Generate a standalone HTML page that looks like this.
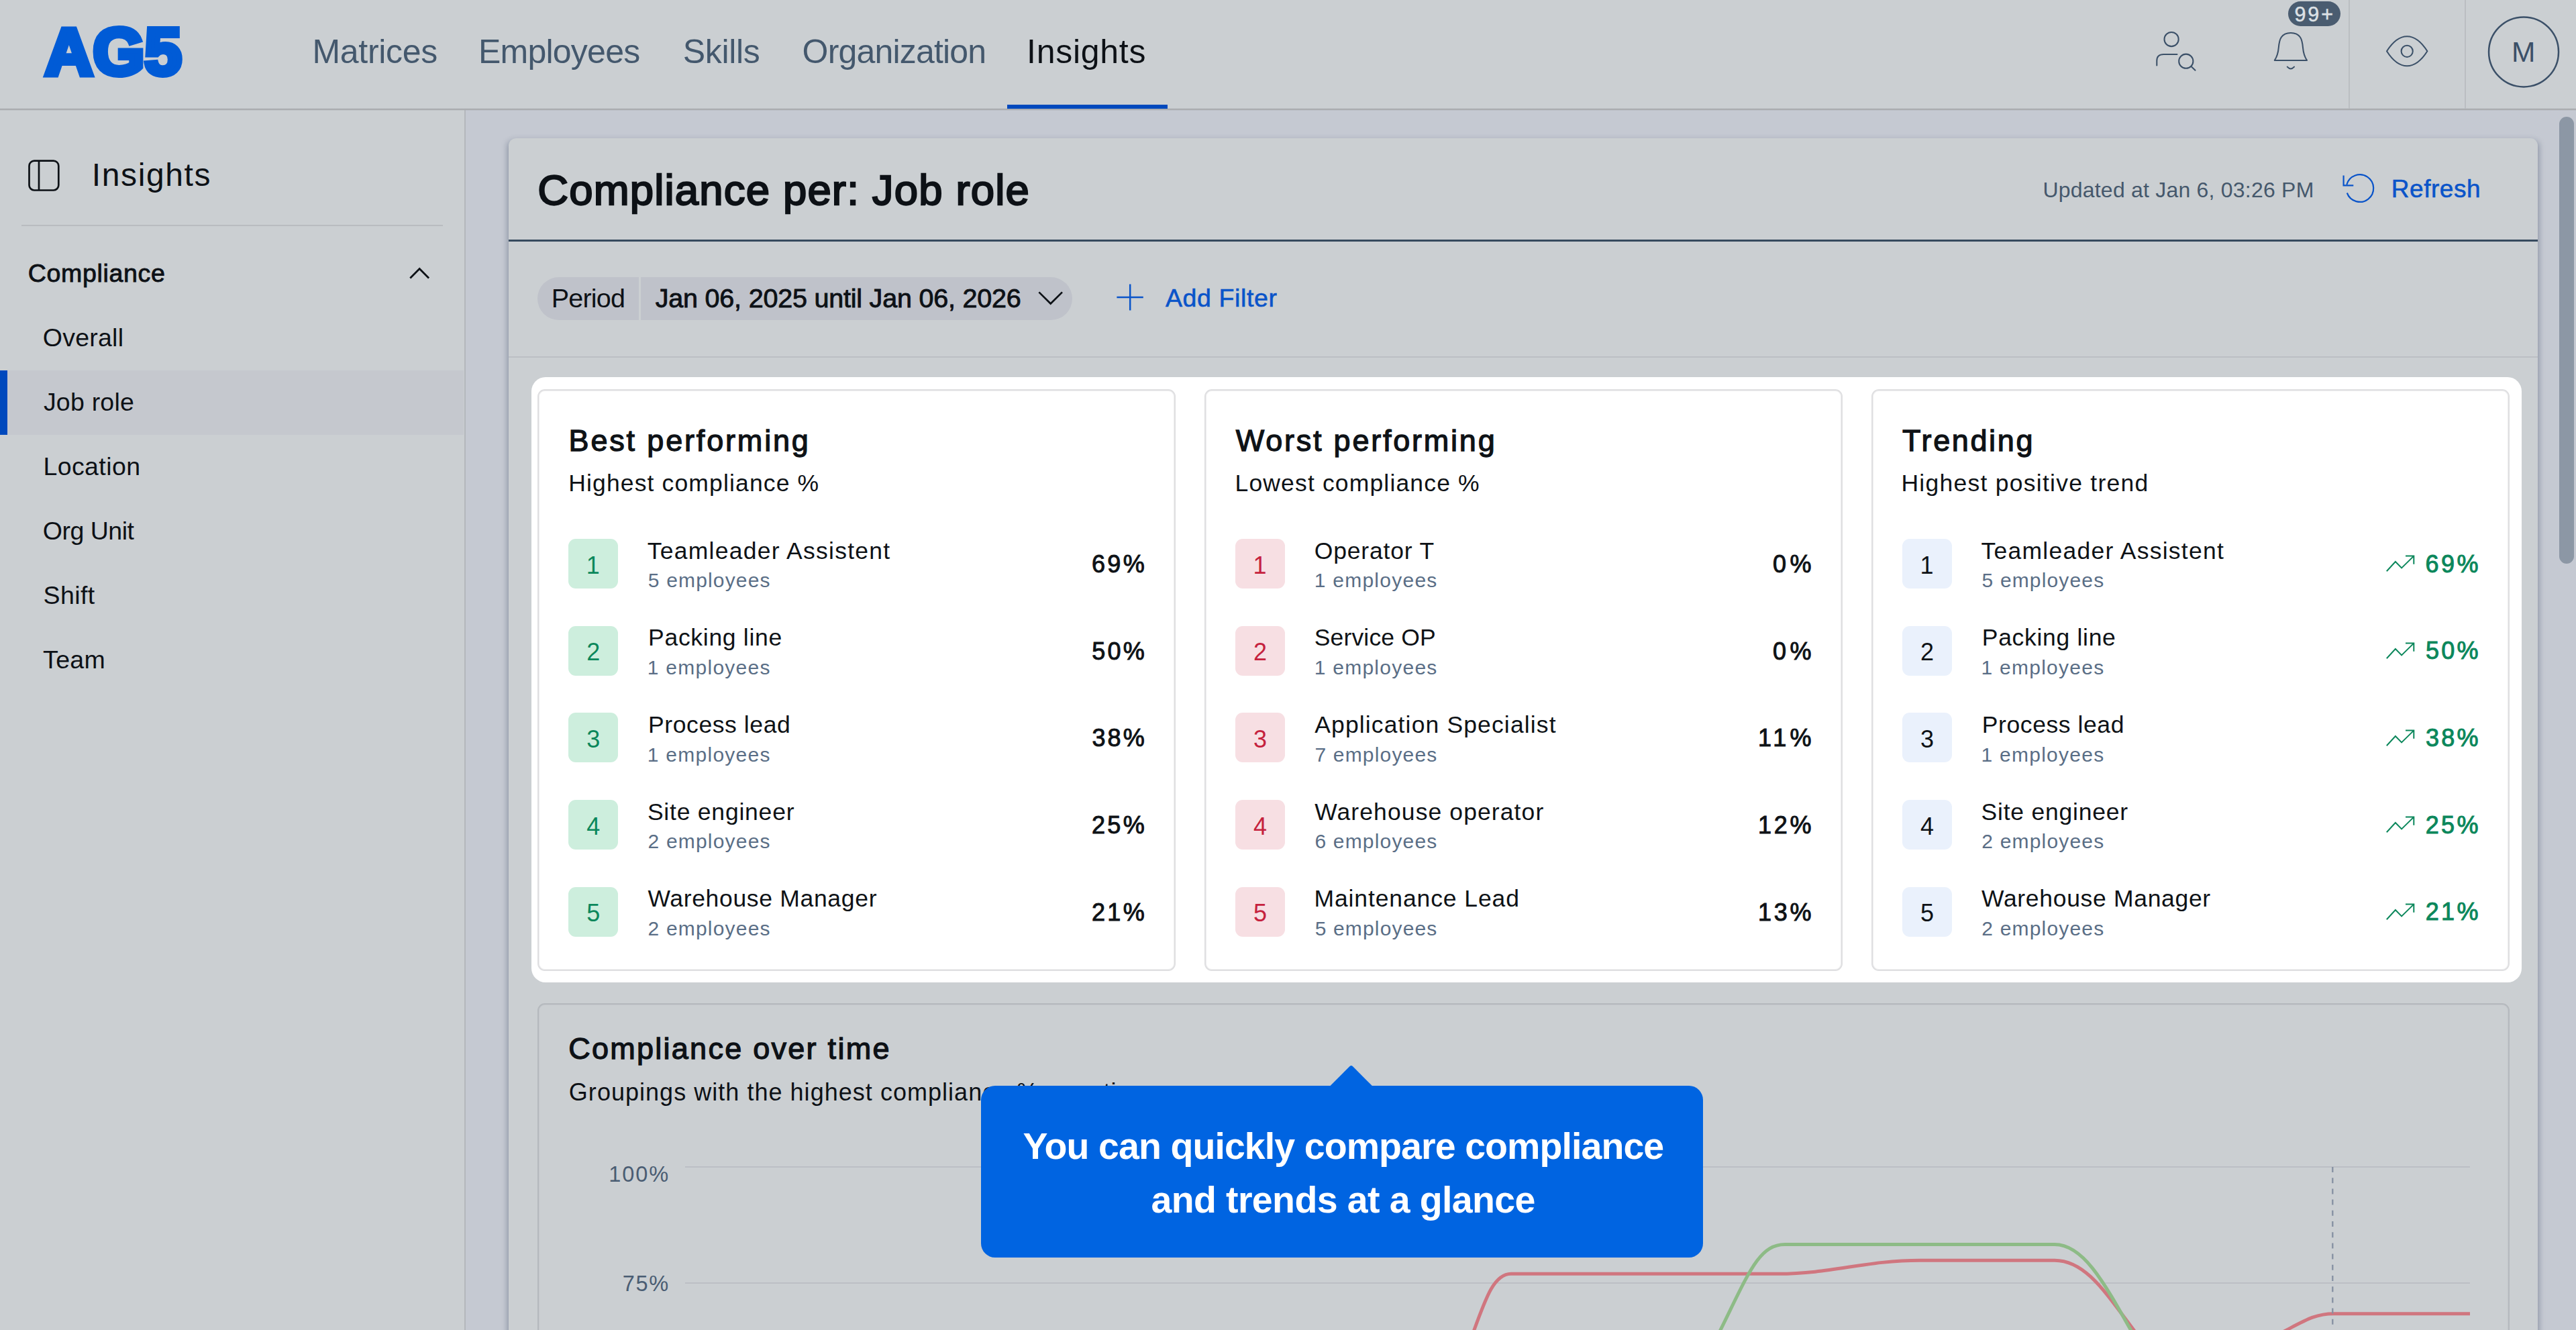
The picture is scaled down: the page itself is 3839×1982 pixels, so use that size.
<!DOCTYPE html>
<html lang="en">
<head>
<meta charset="utf-8">
<title>AG5 – Insights – Compliance per Job role</title>
<style>
*{box-sizing:border-box;margin:0;padding:0}
html,body{width:3839px;height:1982px;overflow:hidden}
body{position:relative;background:#c5c9d2;font-family:"Liberation Sans",sans-serif;}
.abs{position:absolute}
.t{position:absolute;white-space:pre;line-height:1;font-weight:400}
#header{position:absolute;left:0;top:0;width:3839px;height:162px;background:#cbcfd2}
#hline{position:absolute;left:0;top:161px;width:3839px;height:4px;background:linear-gradient(to bottom,rgba(170,172,176,.3) 0 1px,#abadb0 1px 3px,rgba(170,172,176,.25) 3px 4px)}
#navact{position:absolute;left:1501px;top:156px;width:239px;height:6px;background:#0049bd}
.vdiv{position:absolute;top:0;width:2px;height:162px;background:#bbbec2}
#sidebar{position:absolute;left:0;top:164px;width:692px;height:1818px;background:#cbcfd2}
#sideline{position:absolute;left:692px;top:164px;width:2px;height:1818px;background:#b4b7bc}
#sidesep{position:absolute;left:32px;top:335px;width:628px;height:2px;background:#b9bcc0}
#siderow{position:absolute;left:0;top:552px;width:691px;height:96px;background:#c5c8ce}
#sidebar-act{position:absolute;left:0;top:552px;width:11px;height:96px;background:#0049bd}
#main{position:absolute;left:758px;top:206px;width:3024px;height:1800px;background:#cbcfd2;border-radius:11px 11px 0 0;box-shadow:0 1px 8px rgba(70,80,110,.16)}
#mainsh{position:absolute;left:760px;top:216px;width:3020px;height:1800px;box-shadow:0 0 9px 3px rgba(72,88,110,.40)}
#titleline{position:absolute;left:758px;top:357px;width:3024px;height:2.5px;background:#364a5e}
#filterline{position:absolute;left:758px;top:531px;width:3024px;height:2px;background:#bcbfc4}
#pill{position:absolute;left:800.8px;top:412.5px;width:796.8px;height:64px;border-radius:32px;background:#bfc2ca}
#pilldiv{position:absolute;left:952px;top:412.5px;width:3px;height:64px;background:#cbcfd2}
#hl{position:absolute;left:792px;top:562px;width:2966px;height:901.5px;border-radius:21px;background:#fff}
.card{position:absolute;top:579.5px;width:950.5px;height:867.7px;border:2px solid #dfdfe1;box-shadow:inset 0 0 0 1px #eeeeef;border-radius:11px;background:#fff}
.badge{position:absolute;width:74.4px;height:74px;border-radius:11px}
.badge.g{background:#cdeedd}.badge.r{background:#f7dfe3}.badge.b{background:#eaf1fc}
.trend{position:absolute;overflow:visible}
#chart{position:absolute;left:801.4px;top:1494.5px;width:2938.2px;height:520px;border:2px solid #b5b9be;box-shadow:inset 0 0 0 1px #c4c7cb;border-radius:11px}
.grid{position:absolute;left:1020.5px;width:2660.5px;height:2px;background:#bcbfc5}
#sb{position:absolute;left:3814px;top:174px;width:22px;height:666px;border-radius:11px;background:#8c97a5}
#tip{position:absolute;left:1461.6px;top:1617.6px;width:1076.4px;height:256.3px;border-radius:21px;background:#0064e1}
svg.ic{position:absolute;overflow:visible}
</style>
</head>
<body>
<div id="header"></div>
<div id="sidebar"></div>
<div id="sideline"></div>
<div id="hline"></div>
<div id="navact"></div>
<div class="vdiv" style="left:3500px"></div>
<div class="vdiv" style="left:3673px"></div>
<div id="sidesep"></div>
<div id="siderow"></div>
<div id="sidebar-act"></div>
<div id="mainsh"></div>
<div id="main"></div>
<div id="titleline"></div>
<div id="filterline"></div>
<div id="pill"></div><div id="pilldiv"></div>
<div id="hl"></div>
<div id="chart"></div>
<div class="grid" style="top:1738px"></div>
<div class="grid" style="top:1911px"></div>
<div id="sb"></div>
<div class="card" style="left:801.4px"></div>
<div class="badge g" style="left:847.0px;top:802.9px"></div>
<div class="badge g" style="left:847.0px;top:932.6px"></div>
<div class="badge g" style="left:847.0px;top:1062.3px"></div>
<div class="badge g" style="left:847.0px;top:1192.0px"></div>
<div class="badge g" style="left:847.0px;top:1321.7px"></div>
<div class="card" style="left:1795.25px"></div>
<div class="badge r" style="left:1840.85px;top:802.9px"></div>
<div class="badge r" style="left:1840.85px;top:932.6px"></div>
<div class="badge r" style="left:1840.85px;top:1062.3px"></div>
<div class="badge r" style="left:1840.85px;top:1192.0px"></div>
<div class="badge r" style="left:1840.85px;top:1321.7px"></div>
<div class="card" style="left:2789.1px"></div>
<div class="badge b" style="left:2834.7px;top:802.9px"></div>
<svg class="trend" style="left:3556.1px;top:827.2px" width="44" height="27" viewBox="0 0 44 27"><path d="M0.8 24.2 L13.9 10 L23.1 19.4 L40.7 2.1 M29 1.6 H41.3 V13.8" fill="none" stroke="#0b875b" stroke-width="2"/></svg>
<div class="badge b" style="left:2834.7px;top:932.6px"></div>
<svg class="trend" style="left:3556.1px;top:956.9px" width="44" height="27" viewBox="0 0 44 27"><path d="M0.8 24.2 L13.9 10 L23.1 19.4 L40.7 2.1 M29 1.6 H41.3 V13.8" fill="none" stroke="#0b875b" stroke-width="2"/></svg>
<div class="badge b" style="left:2834.7px;top:1062.3px"></div>
<svg class="trend" style="left:3556.1px;top:1086.6px" width="44" height="27" viewBox="0 0 44 27"><path d="M0.8 24.2 L13.9 10 L23.1 19.4 L40.7 2.1 M29 1.6 H41.3 V13.8" fill="none" stroke="#0b875b" stroke-width="2"/></svg>
<div class="badge b" style="left:2834.7px;top:1192.0px"></div>
<svg class="trend" style="left:3556.1px;top:1216.3px" width="44" height="27" viewBox="0 0 44 27"><path d="M0.8 24.2 L13.9 10 L23.1 19.4 L40.7 2.1 M29 1.6 H41.3 V13.8" fill="none" stroke="#0b875b" stroke-width="2"/></svg>
<div class="badge b" style="left:2834.7px;top:1321.7px"></div>
<svg class="trend" style="left:3556.1px;top:1346.0px" width="44" height="27" viewBox="0 0 44 27"><path d="M0.8 24.2 L13.9 10 L23.1 19.4 L40.7 2.1 M29 1.6 H41.3 V13.8" fill="none" stroke="#0b875b" stroke-width="2"/></svg>
<!-- logo as real text -->
<span class="t" id="logo" style="left:67.1px;top:26.5px;font-size:99px;font-weight:700;color:#005bd6;letter-spacing:0;-webkit-text-stroke:8px #005bd6;">AG5</span>
<!-- sidebar toggle icon -->
<svg class="ic" style="left:40px;top:236px" width="52" height="52" viewBox="0 0 52 52"><rect x="3.5" y="3.7" width="43.8" height="43.8" rx="7.5" fill="none" stroke="#0d1116" stroke-width="2.7"/><path d="M18 3.7V47.5" stroke="#0d1116" stroke-width="2.7"/></svg>
<!-- chevron up in sidebar -->
<svg class="ic" style="left:606px;top:394px" width="40" height="28" viewBox="0 0 40 28"><path d="M5.3 20.5 L19.2 6.6 L33.1 20.5" fill="none" stroke="#0d1116" stroke-width="2.8"/></svg>
<!-- person search -->
<svg class="ic" style="left:3205px;top:40px" width="76" height="72" viewBox="0 0 76 72"><g fill="none" stroke="#3b5068" stroke-width="2.05" stroke-linecap="round"><circle cx="31.1" cy="18.5" r="10.6"/><path d="M9.3 57.5 V50.5 Q9.3 41 19.5 41 H39.5"/><circle cx="52.8" cy="51.2" r="10.6"/><path d="M60.5 59 L66.5 64.7"/></g></svg>
<!-- bell -->
<svg class="ic" style="left:3380px;top:40px" width="70" height="72" viewBox="0 0 70 72"><g fill="none" stroke="#3b5068" stroke-width="2.05" stroke-linecap="round" stroke-linejoin="round"><path d="M9.8 49.9 H58 C54 44 52.6 38 52 31 C51.4 24 51 20 48 15.5 C45 11 40 9 33.9 9 C27.8 9 22.8 11 19.8 15.5 C16.8 20 16.4 24 15.8 31 C15.2 38 13.8 44 9.8 49.9 Z"/><path d="M28.8 59.6 Q33.9 65.2 39 59.6"/></g></svg>
<!-- badge -->
<div class="abs" style="left:3410px;top:2px;width:78px;height:37px;border-radius:18.5px;background:#4a5c70"></div>
<!-- eye -->
<svg class="ic" style="left:3550px;top:46px" width="76" height="60" viewBox="0 0 76 60"><g fill="none" stroke="#3b5068" stroke-width="2.05" stroke-linejoin="round"><path d="M7 30.3 C17 14.5 27 8.2 37.2 8.2 C47.4 8.2 57.4 14.5 67.4 30.3 C57.4 46 47.4 52.3 37.2 52.3 C27 52.3 17 46 7 30.3 Z"/><circle cx="37.2" cy="30.3" r="8.6"/></g></svg>
<!-- avatar -->
<svg class="ic" style="left:3700px;top:20px" width="120" height="116" viewBox="0 0 120 116"><circle cx="61.05" cy="57.4" r="52" fill="none" stroke="#3b5068" stroke-width="2.5"/></svg>
<!-- refresh -->
<svg class="ic" style="left:3486px;top:252px" width="60" height="58" viewBox="0 0 60 58"><g fill="none" stroke="#0a54c9" stroke-width="2.2"><path d="M11.3 23.2 A20.3 20.3 0 1 1 11.8 35.5"/><path d="M6.6 9.4 V24.4 H21.3"/></g></svg>
<!-- chevron down in pill -->
<svg class="ic" style="left:1540.8px;top:427.3px" width="50" height="34" viewBox="0 0 50 34"><path d="M7.4 8.4 L24.7 25.5 L42 8.4" fill="none" stroke="#0d1116" stroke-width="2.7"/></svg>
<!-- plus -->
<svg class="ic" style="left:1660px;top:418.4px" width="50" height="50" viewBox="0 0 50 50"><path d="M24.2 5.4 V44.6 M4.4 25 H43.8" fill="none" stroke="#0a54c9" stroke-width="2.5"/></svg>

<span class="t " style="left:465.48px;top:51.67px;font-size:50px;color:#44586d;letter-spacing:-0.314px;">Matrices</span>
<span class="t " style="left:712.88px;top:51.67px;font-size:50px;color:#44586d;letter-spacing:-0.750px;">Employees</span>
<span class="t " style="left:1017.75px;top:51.67px;font-size:50px;color:#44586d;letter-spacing:-0.325px;">Skills</span>
<span class="t " style="left:1195.62px;top:51.67px;font-size:50px;color:#44586d;letter-spacing:-0.818px;">Organization</span>
<span class="t " style="left:1530.08px;top:51.67px;font-size:50px;color:#0d1116;letter-spacing:0.729px;">Insights</span>
<span class="t " style="left:3419.43px;top:6.48px;font-size:30.5px;color:#dde1e5;letter-spacing:2.962px;-webkit-text-stroke:0.5px #dde1e5;">99+</span>
<span class="t " style="left:3743.10px;top:57.22px;font-size:42.5px;color:#3b5068;">M</span>
<span class="t " style="left:136.82px;top:236.97px;font-size:48px;color:#0d1116;letter-spacing:1.621px;">Insights</span>
<span class="t " style="left:41.83px;top:388.76px;font-size:37.5px;color:#0d1116;letter-spacing:0.667px;-webkit-text-stroke:0.9px #0d1116;">Compliance</span>
<span class="t " style="left:63.75px;top:485.06px;font-size:37.5px;color:#0d1116;letter-spacing:0.246px;">Overall</span>
<span class="t " style="left:64.88px;top:581.06px;font-size:37.5px;color:#0d1116;letter-spacing:0.225px;">Job role</span>
<span class="t " style="left:64.38px;top:677.06px;font-size:37.5px;color:#0d1116;letter-spacing:0.411px;">Location</span>
<span class="t " style="left:63.75px;top:773.06px;font-size:37.5px;color:#0d1116;letter-spacing:-0.489px;">Org Unit</span>
<span class="t " style="left:64.55px;top:869.06px;font-size:37.5px;color:#0d1116;letter-spacing:0.400px;">Shift</span>
<span class="t " style="left:64.12px;top:965.06px;font-size:37.5px;color:#0d1116;letter-spacing:0.308px;">Team</span>
<span class="t " style="left:801.25px;top:252.25px;font-size:63.5px;color:#0d1116;letter-spacing:1.158px;-webkit-text-stroke:2.3px #0d1116;">Compliance per: Job role</span>
<span class="t " style="left:3044.40px;top:266.91px;font-size:32px;color:#45586c;letter-spacing:0.217px;">Updated at Jan 6, 03:26 PM</span>
<span class="t " style="left:3563.80px;top:263.28px;font-size:37px;color:#0a54c9;letter-spacing:0.542px;-webkit-text-stroke:0.6px #0a54c9;">Refresh</span>
<span class="t " style="left:821.75px;top:424.86px;font-size:39.5px;color:#0d1116;letter-spacing:-0.815px;">Period</span>
<span class="t " style="left:976.77px;top:424.86px;font-size:39.5px;color:#0d1116;letter-spacing:-0.209px;-webkit-text-stroke:0.9px #0d1116;">Jan 06, 2025 until Jan 06, 2026</span>
<span class="t " style="left:1736.88px;top:426.36px;font-size:37.5px;color:#0a54c9;letter-spacing:0.628px;-webkit-text-stroke:0.6px #0a54c9;">Add Filter</span>
<span class="t " style="left:847.58px;top:633.51px;font-size:45px;color:#0e1216;letter-spacing:2.834px;-webkit-text-stroke:1.3px #0e1216;">Best performing</span>
<span class="t " style="left:847.23px;top:702.55px;font-size:35.5px;color:#0e1216;letter-spacing:1.141px;">Highest compliance %</span>
<span class="t " style="left:873.70px;top:824.53px;font-size:36px;color:#0b875b;">1</span>
<span class="t " style="left:964.75px;top:803.55px;font-size:35.5px;color:#0e1216;letter-spacing:1.263px;">Teamleader Assistent</span>
<span class="t " style="left:965.85px;top:850.21px;font-size:30px;color:#5a6e86;letter-spacing:1.155px;">5 employees</span>
<span class="t " style="left:1626.93px;top:822.93px;font-size:36px;color:#0e1216;letter-spacing:3.362px;-webkit-text-stroke:1.0px #0e1216;">69%</span>
<span class="t " style="left:874.20px;top:954.23px;font-size:36px;color:#0b875b;">2</span>
<span class="t " style="left:966.12px;top:933.25px;font-size:35.5px;color:#0e1216;letter-spacing:0.693px;">Packing line</span>
<span class="t " style="left:964.85px;top:979.90px;font-size:30px;color:#5a6e86;letter-spacing:1.255px;">1 employees</span>
<span class="t " style="left:1627.30px;top:952.63px;font-size:36px;color:#0e1216;letter-spacing:3.175px;-webkit-text-stroke:1.0px #0e1216;">50%</span>
<span class="t " style="left:874.26px;top:1083.93px;font-size:36px;color:#0b875b;">3</span>
<span class="t " style="left:966.12px;top:1062.95px;font-size:35.5px;color:#0e1216;letter-spacing:0.580px;">Process lead</span>
<span class="t " style="left:964.85px;top:1109.61px;font-size:30px;color:#5a6e86;letter-spacing:1.255px;">1 employees</span>
<span class="t " style="left:1627.43px;top:1082.33px;font-size:36px;color:#0e1216;letter-spacing:3.112px;-webkit-text-stroke:1.0px #0e1216;">38%</span>
<span class="t " style="left:874.26px;top:1213.63px;font-size:36px;color:#0b875b;">4</span>
<span class="t " style="left:964.88px;top:1192.65px;font-size:35.5px;color:#0e1216;letter-spacing:0.783px;">Site engineer</span>
<span class="t " style="left:965.60px;top:1239.31px;font-size:30px;color:#5a6e86;letter-spacing:1.180px;">2 employees</span>
<span class="t " style="left:1627.05px;top:1212.03px;font-size:36px;color:#0e1216;letter-spacing:3.300px;-webkit-text-stroke:1.0px #0e1216;">25%</span>
<span class="t " style="left:874.20px;top:1343.33px;font-size:36px;color:#0b875b;">5</span>
<span class="t " style="left:965.38px;top:1322.35px;font-size:35.5px;color:#0e1216;letter-spacing:0.681px;">Warehouse Manager</span>
<span class="t " style="left:965.60px;top:1369.01px;font-size:30px;color:#5a6e86;letter-spacing:1.180px;">2 employees</span>
<span class="t " style="left:1627.05px;top:1341.73px;font-size:36px;color:#0e1216;letter-spacing:3.300px;-webkit-text-stroke:1.0px #0e1216;">21%</span>
<span class="t " style="left:1841.75px;top:633.51px;font-size:45px;color:#0e1216;letter-spacing:2.778px;-webkit-text-stroke:1.3px #0e1216;">Worst performing</span>
<span class="t " style="left:1840.53px;top:702.55px;font-size:35.5px;color:#0e1216;letter-spacing:1.153px;">Lowest compliance %</span>
<span class="t " style="left:1867.55px;top:824.53px;font-size:36px;color:#c5223e;">1</span>
<span class="t " style="left:1958.72px;top:803.55px;font-size:35.5px;color:#0e1216;letter-spacing:0.819px;">Operator T</span>
<span class="t " style="left:1958.70px;top:850.21px;font-size:30px;color:#5a6e86;letter-spacing:1.255px;">1 employees</span>
<span class="t " style="left:2641.88px;top:822.93px;font-size:36px;color:#0e1216;letter-spacing:5.625px;-webkit-text-stroke:1.0px #0e1216;">0%</span>
<span class="t " style="left:1868.05px;top:954.23px;font-size:36px;color:#c5223e;">2</span>
<span class="t " style="left:1958.72px;top:933.25px;font-size:35.5px;color:#0e1216;letter-spacing:0.164px;">Service OP</span>
<span class="t " style="left:1958.70px;top:979.90px;font-size:30px;color:#5a6e86;letter-spacing:1.255px;">1 employees</span>
<span class="t " style="left:2641.88px;top:952.63px;font-size:36px;color:#0e1216;letter-spacing:5.625px;-webkit-text-stroke:1.0px #0e1216;">0%</span>
<span class="t " style="left:1868.11px;top:1083.93px;font-size:36px;color:#c5223e;">3</span>
<span class="t " style="left:1959.22px;top:1062.95px;font-size:35.5px;color:#0e1216;letter-spacing:1.137px;">Application Specialist</span>
<span class="t " style="left:1959.45px;top:1109.61px;font-size:30px;color:#5a6e86;letter-spacing:1.180px;">7 employees</span>
<span class="t " style="left:2619.90px;top:1082.33px;font-size:36px;color:#0e1216;letter-spacing:5.112px;-webkit-text-stroke:1.0px #0e1216;">11%</span>
<span class="t " style="left:1868.11px;top:1213.63px;font-size:36px;color:#c5223e;">4</span>
<span class="t " style="left:1959.22px;top:1192.65px;font-size:35.5px;color:#0e1216;letter-spacing:1.099px;">Warehouse operator</span>
<span class="t " style="left:1959.45px;top:1239.31px;font-size:30px;color:#5a6e86;letter-spacing:1.180px;">6 employees</span>
<span class="t " style="left:2619.90px;top:1212.03px;font-size:36px;color:#0e1216;letter-spacing:3.800px;-webkit-text-stroke:1.0px #0e1216;">12%</span>
<span class="t " style="left:1868.05px;top:1343.33px;font-size:36px;color:#c5223e;">5</span>
<span class="t " style="left:1958.47px;top:1322.35px;font-size:35.5px;color:#0e1216;letter-spacing:0.887px;">Maintenance Lead</span>
<span class="t " style="left:1959.70px;top:1369.01px;font-size:30px;color:#5a6e86;letter-spacing:1.155px;">5 employees</span>
<span class="t " style="left:2619.90px;top:1341.73px;font-size:36px;color:#0e1216;letter-spacing:3.800px;-webkit-text-stroke:1.0px #0e1216;">13%</span>
<span class="t " style="left:2835.10px;top:633.51px;font-size:45px;color:#0e1216;letter-spacing:2.629px;-webkit-text-stroke:1.3px #0e1216;">Trending</span>
<span class="t " style="left:2833.43px;top:702.55px;font-size:35.5px;color:#0e1216;letter-spacing:1.264px;">Highest positive trend</span>
<span class="t " style="left:2861.40px;top:824.53px;font-size:36px;color:#0e1216;">1</span>
<span class="t " style="left:2952.45px;top:803.55px;font-size:35.5px;color:#0e1216;letter-spacing:1.263px;">Teamleader Assistent</span>
<span class="t " style="left:2953.55px;top:850.21px;font-size:30px;color:#5a6e86;letter-spacing:1.155px;">5 employees</span>
<span class="t " style="left:3614.62px;top:822.53px;font-size:36px;color:#0b875b;letter-spacing:3.362px;-webkit-text-stroke:1.0px #0b875b;">69%</span>
<span class="t " style="left:2861.90px;top:954.23px;font-size:36px;color:#0e1216;">2</span>
<span class="t " style="left:2953.82px;top:933.25px;font-size:35.5px;color:#0e1216;letter-spacing:0.693px;">Packing line</span>
<span class="t " style="left:2952.55px;top:979.90px;font-size:30px;color:#5a6e86;letter-spacing:1.255px;">1 employees</span>
<span class="t " style="left:3615.00px;top:952.23px;font-size:36px;color:#0b875b;letter-spacing:3.175px;-webkit-text-stroke:1.0px #0b875b;">50%</span>
<span class="t " style="left:2861.96px;top:1083.93px;font-size:36px;color:#0e1216;">3</span>
<span class="t " style="left:2953.82px;top:1062.95px;font-size:35.5px;color:#0e1216;letter-spacing:0.580px;">Process lead</span>
<span class="t " style="left:2952.55px;top:1109.61px;font-size:30px;color:#5a6e86;letter-spacing:1.255px;">1 employees</span>
<span class="t " style="left:3615.12px;top:1081.93px;font-size:36px;color:#0b875b;letter-spacing:3.112px;-webkit-text-stroke:1.0px #0b875b;">38%</span>
<span class="t " style="left:2861.96px;top:1213.63px;font-size:36px;color:#0e1216;">4</span>
<span class="t " style="left:2952.57px;top:1192.65px;font-size:35.5px;color:#0e1216;letter-spacing:0.783px;">Site engineer</span>
<span class="t " style="left:2953.30px;top:1239.31px;font-size:30px;color:#5a6e86;letter-spacing:1.180px;">2 employees</span>
<span class="t " style="left:3614.75px;top:1211.63px;font-size:36px;color:#0b875b;letter-spacing:3.300px;-webkit-text-stroke:1.0px #0b875b;">25%</span>
<span class="t " style="left:2861.90px;top:1343.33px;font-size:36px;color:#0e1216;">5</span>
<span class="t " style="left:2953.07px;top:1322.35px;font-size:35.5px;color:#0e1216;letter-spacing:0.681px;">Warehouse Manager</span>
<span class="t " style="left:2953.30px;top:1369.01px;font-size:30px;color:#5a6e86;letter-spacing:1.180px;">2 employees</span>
<span class="t " style="left:3614.75px;top:1341.33px;font-size:36px;color:#0b875b;letter-spacing:3.300px;-webkit-text-stroke:1.0px #0b875b;">21%</span>
<span class="t " style="left:847.15px;top:1539.71px;font-size:45px;color:#0d1116;letter-spacing:2.270px;-webkit-text-stroke:1.3px #0d1116;">Compliance over time</span>
<span class="t " style="left:847.85px;top:1610.23px;font-size:36px;color:#0d1116;letter-spacing:1.029px;">Groupings with the highest compliance % over time</span>
<span class="t " style="left:907.20px;top:1734.39px;font-size:32.5px;color:#4a5d73;letter-spacing:1.933px;">100%</span>
<span class="t " style="left:927.77px;top:1896.79px;font-size:32.5px;color:#4a5d73;letter-spacing:1.675px;">75%</span>
<svg class="ic" style="left:0;top:0" width="3839" height="1982" viewBox="0 0 3839 1982">
<g fill="none" stroke-width="5" stroke-linecap="butt">
<path d="M2194 1990 C2214 1935 2226 1898.3 2252 1898.3 L2650 1898.3 C2730 1898.3 2780 1878.2 2862 1878.2 L3062 1878.2 C3110 1878.2 3140 1930 3186 1990" stroke="#d0767f"/>
<path d="M2560 1990 C2605 1900 2620 1854.5 2660 1854.5 L3062 1854.5 C3105 1854.5 3135 1910 3180 1990" stroke="#8dbb86"/>
<path d="M3400 1986 C3435 1968 3450 1957.7 3478 1957.7 L3681 1957.7" stroke="#d0767f"/>
</g>
<path d="M3476.3 1739 V1982" stroke="#8590a2" stroke-width="2.3" stroke-dasharray="8 8.2" fill="none"/>
</svg>
<!-- tooltip arrow -->
<svg class="ic" style="left:1978px;top:1584px" width="72" height="36" viewBox="0 0 72 36"><path d="M4.6 34 L33.5 5 Q35.7 2.8 37.9 5 L66.8 34 Z" fill="#0064e1"/></svg>

<div id="tip"></div>
<span class="t " style="left:1524.60px;top:1681.02px;font-size:55.5px;color:#ffffff;font-weight:700;letter-spacing:-0.919px;">You can quickly compare compliance</span>
<span class="t " style="left:1715.38px;top:1760.72px;font-size:55.5px;color:#ffffff;font-weight:700;letter-spacing:-0.614px;">and trends at a glance</span>
</body>
</html>
